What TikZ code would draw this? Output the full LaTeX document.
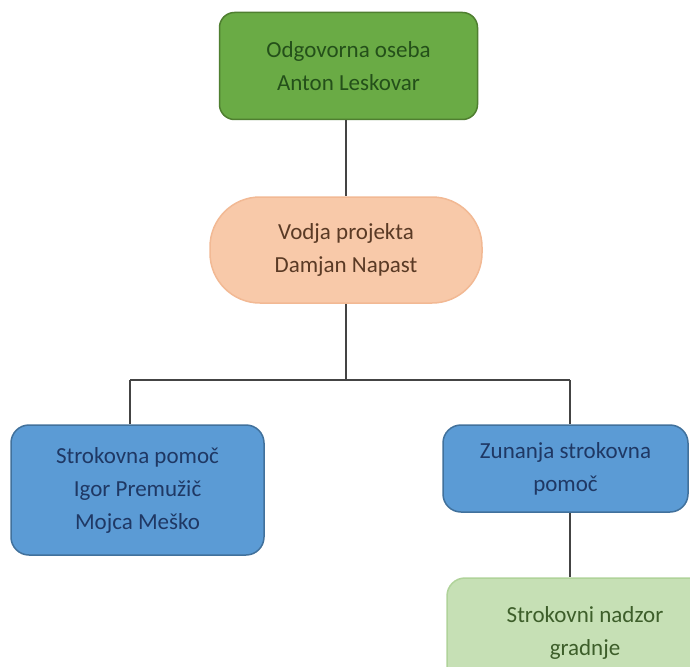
\documentclass[tikz,border=0pt]{standalone}
\usepackage{fontspec}
\setmainfont{Carlito}
\definecolor{gfill}{HTML}{6AAB45}
\definecolor{gdraw}{HTML}{4F7F30}
\definecolor{gtext}{HTML}{24501A}
\definecolor{pfill}{HTML}{F8C9A9}
\definecolor{pdraw}{HTML}{F2B994}
\definecolor{ptext}{HTML}{5A3A25}
\definecolor{bfill}{HTML}{5B9BD5}
\definecolor{bdraw}{HTML}{41719C}
\definecolor{btext}{HTML}{1F3864}
\definecolor{lgfill}{HTML}{C6E0B5}
\definecolor{lgdraw}{HTML}{B0D39A}
\definecolor{lgtext}{HTML}{3D5E2A}
\definecolor{wire}{HTML}{444444}
\tikzset{
  x=1pt,y=-1pt,
  box/.style={rectangle, align=center, inner sep=0pt, line width=1.5pt,
    font=\fontsize{23}{33}\selectfont},
  connector/.style={draw=wire, line width=2pt},
}
\begin{document}
\begin{tikzpicture}
\useasboundingbox (0,0) rectangle (690,666);
\fill[white] (0,0) rectangle (690,666);
\begin{scope}
\clip (0,0) rectangle (690,666);
\node[box, fill=gfill, draw=gdraw, text=gtext, rounded corners=15pt,
  minimum width=258pt, minimum height=107pt] (resp) at (348.5,66)
  {Odgovorna oseba\\Anton Leskovar};
\node[box, fill=pfill, draw=pdraw, text=ptext, rounded corners=50pt,
  minimum width=272pt, minimum height=106pt] (lead) at (346,250)
  {Vodja projekta\\Damjan Napast};
\node[box, fill=bfill, draw=bdraw, text=btext, rounded corners=18pt,
  minimum width=253pt, minimum height=130pt] (expert) at (137.5,490)
  {Strokovna pomoč\\Igor Premužič\\Mojca Meško};
\node[box, fill=bfill, draw=bdraw, text=btext, rounded corners=18pt,
  minimum width=245pt, minimum height=87pt] (ext) at (565.5,468.5)
  {Zunanja strokovna\\pomoč};
\node[box, fill=lgfill, draw=lgdraw, text=lgtext, rounded corners=18pt,
  minimum width=276pt, minimum height=110pt] (super) at (585,633)
  {Strokovni nadzor\\gradnje};
\end{scope}
\coordinate (j) at (346,380);
\coordinate (l) at (130,380);
\coordinate (r) at (570,380);
\draw[connector] (resp.south -| j) -- (lead.north -| j);
\draw[connector] (lead.south -| j) -- (j);
\draw[connector] (l) -- (r);
\draw[connector] (l) -- (l |- expert.north);
\draw[connector] (r) -- (r |- ext.north);
\draw[connector] (ext.south -| r) -- (super.north -| r);
\end{tikzpicture}
\end{document}
